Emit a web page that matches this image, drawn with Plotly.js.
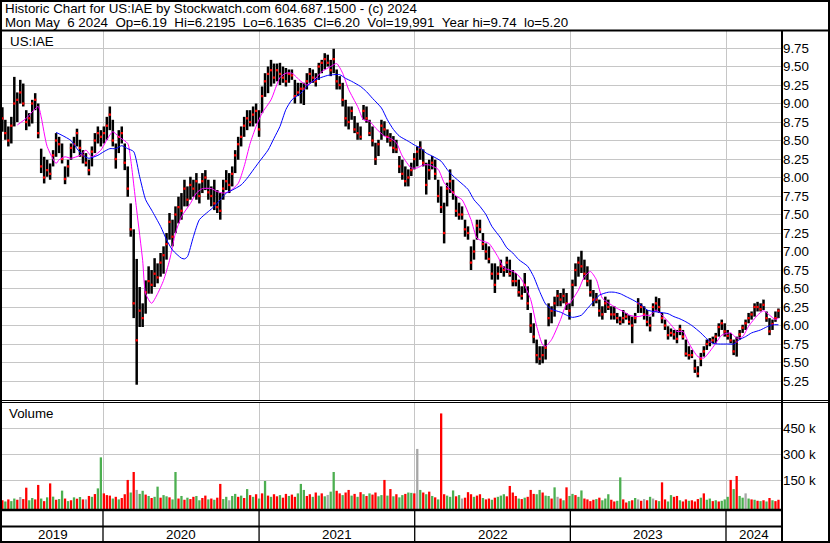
<!DOCTYPE html>
<html><head><meta charset="utf-8">
<script src="https://cdn.plot.ly/plotly-3.0.1.min.js"></script>
<style>html,body{margin:0;padding:0;background:#fff;overflow:hidden}#chart{width:830px;height:543px}</style>
</head><body><div id="chart"></div>
<script>
// ---- data (weekly bars) ----
const firstWeek = '2019-05-10';
const highs = [8.95,8.78,8.69,8.82,9.36,9.15,9.32,9.27,8.91,8.87,
9.05,9.14,9.00,8.39,8.28,8.24,8.19,8.37,8.60,8.55,
8.46,8.15,8.24,8.46,8.55,8.66,8.51,8.37,8.33,8.24,
8.42,8.60,8.69,8.64,8.69,8.82,8.96,8.78,8.46,8.64,
8.69,8.46,8.15,7.65,7.30,6.90,6.52,6.30,6.61,6.80,
6.75,6.91,6.84,6.98,7.07,7.25,7.52,7.43,7.61,7.74,
7.79,7.97,7.88,8.01,7.97,8.06,7.92,8.06,8.10,7.97,
7.88,7.97,7.83,7.79,7.97,8.10,8.06,8.15,8.37,8.55,
8.69,8.82,8.91,8.91,8.96,9.00,8.91,9.23,9.41,9.50,
9.59,9.54,9.54,9.55,9.50,9.48,9.46,9.46,9.32,9.28,
9.28,9.28,9.41,9.48,9.46,9.41,9.55,9.59,9.68,9.66,
9.59,9.74,9.46,9.37,9.28,9.05,8.96,8.96,8.83,8.74,
8.69,8.98,8.96,8.78,8.69,8.47,8.51,8.78,8.76,8.65,
8.60,8.56,8.51,8.29,8.24,8.15,8.11,8.20,8.33,8.42,
8.49,8.38,8.20,8.24,8.29,8.24,7.97,7.88,7.66,7.93,
8.11,7.97,7.75,7.66,7.61,7.43,7.34,7.07,7.16,7.43,
7.43,7.25,7.11,7.07,6.84,6.84,6.80,6.89,6.80,6.93,
6.89,6.75,6.71,6.62,6.53,6.71,6.53,6.17,6.03,5.81,
5.72,5.72,5.81,6.30,6.26,6.39,6.48,6.44,6.50,6.44,
6.30,6.62,6.84,6.93,7.01,6.89,6.80,6.62,6.48,6.44,
6.35,6.26,6.39,6.35,6.26,6.26,6.17,6.12,6.21,6.17,
6.14,6.12,6.17,6.37,6.30,6.26,6.21,6.12,6.30,6.39,
6.37,6.17,6.08,5.99,5.96,5.94,5.94,6.01,5.94,5.81,
5.72,5.67,5.54,5.45,5.63,5.72,5.81,5.83,5.85,5.90,
6.03,6.08,6.03,5.94,5.90,5.81,5.85,5.94,6.01,6.08,
6.17,6.19,6.30,6.32,6.30,6.35,6.19,6.10,6.08,6.19,
6.23];
const lows = [8.62,8.51,8.42,8.46,8.69,8.75,9.00,8.96,8.64,8.69,
8.73,8.91,8.53,8.06,7.92,8.01,7.97,8.15,8.28,8.33,
8.19,7.91,8.01,8.24,8.33,8.42,8.28,8.19,8.15,8.03,
8.15,8.33,8.46,8.42,8.46,8.51,8.64,8.42,8.12,8.33,
8.46,8.10,7.74,7.20,6.10,5.20,5.98,5.98,6.16,6.43,
6.43,6.52,6.57,6.66,6.70,6.89,7.16,7.07,7.25,7.38,
7.43,7.61,7.61,7.70,7.74,7.70,7.65,7.79,7.83,7.70,
7.61,7.56,7.52,7.43,7.70,7.83,7.79,7.88,8.06,8.24,
8.42,8.55,8.64,8.69,8.69,8.73,8.55,8.87,9.09,9.14,
9.23,9.27,9.30,9.25,9.28,9.23,9.28,9.32,9.00,9.10,
9.00,8.98,9.19,9.28,9.28,9.23,9.32,9.41,9.46,9.50,
9.37,9.41,9.19,9.19,8.96,8.69,8.65,8.78,8.60,8.51,
8.51,8.78,8.74,8.56,8.42,8.17,8.29,8.51,8.56,8.47,
8.42,8.33,8.33,8.06,7.97,7.88,7.88,8.02,8.11,8.15,
8.24,8.15,7.77,7.97,8.11,7.97,7.66,7.52,7.11,7.61,
7.79,7.70,7.47,7.43,7.43,7.20,7.16,6.75,6.89,7.16,
7.25,7.02,6.89,6.84,6.62,6.44,6.62,6.71,6.66,6.71,
6.66,6.53,6.53,6.39,6.35,6.44,6.21,5.90,5.76,5.49,
5.47,5.49,5.54,5.99,6.03,6.12,6.26,6.26,6.30,6.21,
6.08,6.26,6.53,6.66,6.71,6.62,6.53,6.39,6.26,6.30,
6.12,6.08,6.17,6.21,6.08,6.08,6.03,6.01,6.03,6.08,
6.01,5.76,6.03,6.17,6.17,6.08,5.99,5.92,6.12,6.19,
6.17,6.03,5.94,5.81,5.85,5.81,5.76,5.87,5.81,5.58,
5.54,5.56,5.36,5.30,5.45,5.58,5.67,5.72,5.76,5.76,
5.85,5.94,5.85,5.81,5.76,5.60,5.58,5.81,5.90,5.94,
6.03,6.08,6.12,6.19,6.19,6.21,6.05,5.87,5.94,6.05,
6.10];
const closes = [8.80,8.60,8.50,8.70,9.00,9.05,9.15,9.00,8.75,8.80,
9.00,9.05,8.60,8.15,8.00,8.10,8.05,8.30,8.50,8.45,
8.25,7.98,8.15,8.40,8.45,8.60,8.40,8.30,8.20,8.10,
8.35,8.50,8.60,8.55,8.60,8.70,8.85,8.50,8.25,8.55,
8.60,8.20,7.85,7.30,6.30,5.80,6.20,6.10,6.45,6.60,
6.55,6.70,6.65,6.85,6.95,7.10,7.40,7.20,7.50,7.60,
7.55,7.85,7.70,7.90,7.85,7.95,7.75,7.95,8.00,7.80,
7.75,7.65,7.60,7.55,7.85,7.95,7.90,8.05,8.30,8.45,
8.55,8.70,8.80,8.75,8.85,8.90,8.65,9.10,9.30,9.40,
9.45,9.35,9.45,9.40,9.35,9.30,9.40,9.38,9.10,9.15,
9.20,9.20,9.30,9.40,9.35,9.30,9.50,9.55,9.60,9.55,
9.45,9.60,9.30,9.25,9.05,8.80,8.75,8.90,8.65,8.60,
8.55,8.90,8.80,8.60,8.50,8.25,8.45,8.70,8.65,8.55,
8.50,8.40,8.38,8.15,8.05,7.95,8.00,8.10,8.25,8.35,
8.40,8.20,7.90,8.10,8.20,8.05,7.75,7.60,7.25,7.85,
7.95,7.80,7.55,7.50,7.50,7.30,7.25,6.85,7.00,7.35,
7.30,7.10,7.00,6.90,6.70,6.55,6.70,6.80,6.75,6.85,
6.70,6.60,6.60,6.45,6.40,6.55,6.30,6.00,5.85,5.60,
5.55,5.60,5.70,6.10,6.20,6.30,6.40,6.35,6.40,6.30,
6.20,6.55,6.75,6.85,6.80,6.70,6.60,6.45,6.35,6.35,
6.20,6.15,6.30,6.25,6.15,6.15,6.10,6.05,6.10,6.12,
6.05,6.00,6.10,6.30,6.25,6.15,6.05,6.00,6.25,6.30,
6.25,6.10,6.00,5.87,5.90,5.88,5.82,5.95,5.85,5.62,
5.60,5.60,5.42,5.35,5.55,5.65,5.75,5.78,5.80,5.85,
5.98,6.03,5.92,5.86,5.80,5.65,5.78,5.88,5.97,6.03,
6.10,6.15,6.25,6.25,6.22,6.28,6.10,5.92,6.02,6.10,
6.20];
// volume in thousands of shares, and bar colour (r = down, g = up, x = unchanged)
const volumesK = [35,28,40,30,45,38,54,42,108,35,
48,40,124,45,30,52,133,56,38,42,
91,45,30,35,52,44,54,40,40,60,
55,71,104,284,75,65,62,45,55,40,
48,70,153,80,199,95,72,90,68,60,
48,55,114,50,65,58,52,40,199,45,
60,38,50,42,55,60,35,48,62,40,
45,38,50,130,42,55,35,60,72,55,
62,48,100,65,55,70,45,75,147,62,
55,70,58,65,50,72,60,68,55,75,
130,95,60,70,55,80,62,75,58,66,
85,199,90,75,65,80,95,62,72,55,
82,70,60,75,68,80,58,65,153,62,
100,58,70,52,65,72,80,78,75,333,
95,80,70,85,60,52,40,539,70,62,
55,92,58,65,45,50,82,70,55,62,
70,48,40,45,38,50,55,62,70,58,
118,80,60,45,42,50,55,95,72,70,
95,80,62,60,45,110,55,45,35,110,
60,72,65,55,92,45,40,30,38,42,
50,35,45,70,38,28,32,168,40,22,
30,35,48,40,32,42,35,55,45,35,
30,139,40,28,65,55,60,35,28,40,
32,35,28,42,50,75,38,45,30,35,
28,32,40,55,153,100,176,60,50,75,
45,40,38,32,30,35,28,48,35,30,
38];
const volDirection = ('rgrggrxrrg'+'grrgrgrgrg'+'grgrgrgrxr'+'grggrrrgrg'+'rrrgrxggrg'+
'rggrggrggr'+'grgrrggrrg'+'rgrrggxggr'+'grgrgrgrgr'+'grrgrrgrrg'+
'ggrrgrgrgx'+'ggrrgrrgrg'+'rgrgrrggrg'+'rgrggrggrx'+'grgrgrgrrg'+
'ggrgxrrrgr'+'rgrrgrgggr'+'rrrgrgrrrg'+'grggrgxrgr'+'ggrggrrrrg'+
'rgggrrggrr'+'grgxrxrgxr'+'grrggrrgrr'+'grrrgrggrg'+'rgggrgrggx'+
'grgrgrgrgr'+'r').split('');
// moving averages (week index, value)
const magentaWeek = [5,8,12,13,15,18,19,21,23,26,28,30,33,35,37,39,42,43,45,47,48,50,52,54,56,58,60,63,65,67,70,72,74,76,79,81,83,85,87,90,93,95,97,100,102,104,107,110,112,114,116,119,121,123,125,128,130,132,134,137,139,141,143,146,148,150,152,154,157,159,161,163,166,168,170,172,174,177,179,181,182,184,187,189,190,193,195,197,199,201,204,206,208,210,213,215,217,219,221,224,226,228,230,233,235,237,239,241,244,246,248,250,253,255,257,259,260];
const magentaVal = [8.71,8.80,8.96,8.82,8.42,8.19,8.24,8.28,8.26,8.30,8.37,8.28,8.37,8.51,8.62,8.55,8.46,8.24,7.56,6.88,6.43,6.30,6.43,6.61,6.88,7.25,7.47,7.65,7.79,7.85,7.85,7.81,7.79,7.81,7.92,8.15,8.46,8.69,8.87,9.05,9.35,9.41,9.41,9.30,9.25,9.30,9.43,9.50,9.54,9.41,9.19,8.96,8.78,8.76,8.67,8.56,8.53,8.47,8.29,8.13,8.13,8.17,8.17,8.11,7.93,7.84,7.75,7.70,7.43,7.18,7.14,7.11,6.93,6.78,6.75,6.71,6.62,6.35,5.99,5.74,5.72,5.81,6.08,6.29,6.30,6.48,6.66,6.73,6.62,6.37,6.28,6.23,6.19,6.14,6.12,6.14,6.14,6.21,6.14,6.01,5.92,5.92,5.76,5.58,5.56,5.65,5.76,5.87,5.90,5.83,5.85,5.99,6.14,6.20,6.14,6.08,6.10];
const blueWeek = [18,20,23,25,27,29,32,34,36,38,40,42,44,46,48,50,53,55,57,60,61,62,64,66,69,71,73,75,77,80,82,84,86,89,91,93,95,97,100,102,104,106,109,111,113,115,117,120,122,124,127,129,131,133,136,138,140,142,144,147,149,151,153,156,158,160,162,164,167,169,171,173,176,178,180,182,184,187,189,191,194,196,198,200,203,205,207,209,211,214,216,218,220,223,225,227,229,231,234,236,238,240,243,245,247,249,251,254,256,258,260];
const blueVal = [8.61,8.57,8.50,8.39,8.30,8.26,8.30,8.35,8.39,8.39,8.43,8.39,8.35,8.01,7.70,7.56,7.34,7.16,7.02,6.91,6.90,6.93,7.20,7.43,7.54,7.61,7.70,7.79,7.83,7.90,7.99,8.10,8.21,8.37,8.53,8.69,8.92,9.05,9.14,9.23,9.30,9.34,9.38,9.39,9.39,9.34,9.30,9.23,9.16,9.07,8.94,8.78,8.65,8.56,8.49,8.44,8.40,8.33,8.29,8.22,8.11,8.02,7.95,7.84,7.70,7.61,7.50,7.34,7.18,7.05,6.98,6.89,6.80,6.66,6.46,6.29,6.22,6.18,6.14,6.11,6.14,6.23,6.32,6.41,6.45,6.45,6.43,6.39,6.35,6.28,6.21,6.19,6.18,6.16,6.12,6.09,6.05,6.00,5.90,5.82,5.76,5.75,5.75,5.75,5.81,5.85,5.90,5.94,5.98,6.01,6.01];
const priceTicks = [5.25,5.50,5.75,6.00,6.25,6.50,6.75,7.00,7.25,7.50,7.75,8.00,8.25,8.50,8.75,9.00,9.25,9.50,9.75];
const volTicks = [150000,300000,450000];
const volTickText = ['150 k','300 k','450 k'];
const yearStarts = ['2020-01-01','2021-01-01','2022-01-01','2023-01-01','2024-01-01'];
const yearLabels = ['2019','2020','2021','2022','2023','2024'];
const headerLine1 = 'Historic Chart for US:IAE by Stockwatch.com 604.687.1500 - (c) 2024';
const headerLine2 = 'Mon May \u00a06 2024 \u00a0Op=6.19 \u00a0Hi=6.2195 \u00a0Lo=6.1635 \u00a0Cl=6.20 \u00a0Vol=19,991 \u00a0Year hi=9.74 \u00a0lo=5.20';

// ---- build ----
const W = 830, H = 543;
const FONT = 'Liberation Sans, Arial, sans-serif';
const DAY = 864e5;
const t0 = Date.parse(firstWeek + 'T00:00:00Z');
const weekDate = i => new Date(t0 + i*7*DAY).toISOString().slice(0,10);
const dates = highs.map((_, i) => weekDate(i));
const xStart = '2019-05-09 03:20', xEnd = '2024-05-11 08:00';
const volFloor = -21500;

const hlX = [], hlY = [];
dates.forEach((d, i) => { hlX.push(d, d, null); hlY.push(lows[i], highs[i], null); });

const volColorMap = {r: '#ff0000', g: '#4caf50', x: '#a6a6a6'};
const volTraces = Object.keys(volColorMap).map(k => {
  const xs = [], ys = [];
  dates.forEach((d, i) => { if (volDirection[i] === k) { xs.push(d, d, null); ys.push(volFloor, volumesK[i]*1000, null); } });
  return {type: 'scatter', mode: 'lines', x: xs, y: ys, xaxis: 'x', yaxis: 'y2',
          line: {color: volColorMap[k], width: 2.3}, hoverinfo: 'skip', connectgaps: false};
});

const traces = [
  {type: 'scatter', mode: 'lines', x: hlX, y: hlY, line: {color: '#000', width: 2.5}, hoverinfo: 'skip', connectgaps: false},
  {type: 'scatter', mode: 'markers', x: dates, y: closes, marker: {color: '#ff0000', size: 2.3, symbol: 'square', line: {width: 0}}, hoverinfo: 'skip'},
  {type: 'scatter', mode: 'lines', x: magentaWeek.map(weekDate), y: magentaVal, line: {color: '#ff00ff', width: 1, shape: 'spline', smoothing: 0.6}, hoverinfo: 'skip'},
  {type: 'scatter', mode: 'lines', x: blueWeek.map(weekDate), y: blueVal, line: {color: '#0000ff', width: 1, shape: 'spline', smoothing: 0.6}, hoverinfo: 'skip'},
  ...volTraces
];

const px = X => X / W, py = Y => 1 - Y / H;
const hline = (Y, x0, x1, w) => ({type: 'line', xref: 'paper', yref: 'paper', x0: px(x0), x1: px(x1), y0: py(Y), y1: py(Y), line: {color: '#000', width: w}});
const vline = (X, y0, y1, w) => ({type: 'line', xref: 'paper', yref: 'paper', x0: px(X), x1: px(X), y0: py(y0), y1: py(y1), line: {color: '#000', width: w}});

const shapes = [
  hline(1, 0, 830, 2), hline(30.5, 0, 830, 2),
  hline(400.5, 0, 830, 1), hline(402.5, 0, 830, 1),
  hline(510, 0, 782, 2.5), hline(526.5, 0, 782, 2), hline(542, 0, 830, 2),
  vline(1, 0, 543, 2), vline(782, 30, 543, 2), vline(829, 0, 543, 2),
  ...yearStarts.map(d => ({type: 'line', xref: 'x', yref: 'paper', x0: d, x1: d, y0: py(510), y1: py(542), line: {color: '#000', width: 1.3}}))
];

const bounds = [xStart, ...yearStarts, xEnd].map(s => Date.parse(s.replace(' ', 'T') + (s.length > 10 ? ':00Z' : 'T00:00:00Z')));
const annotations = [
  {text: headerLine1, xref: 'paper', yref: 'paper', x: px(3), y: py(8.8), xanchor: 'left', yanchor: 'middle', showarrow: false, font: {family: FONT, size: 13.33, color: '#000'}},
  {text: headerLine2, xref: 'paper', yref: 'paper', x: px(3), y: py(22.6), xanchor: 'left', yanchor: 'middle', showarrow: false, font: {family: FONT, size: 13.33, color: '#000'}},
  {text: 'US:IAE', xref: 'paper', yref: 'paper', x: px(8), y: py(41.3), xanchor: 'left', yanchor: 'middle', showarrow: false, font: {family: FONT, size: 13.33, color: '#000'}},
  {text: 'Volume', xref: 'paper', yref: 'paper', x: px(7), y: py(413.3), xanchor: 'left', yanchor: 'middle', showarrow: false, font: {family: FONT, size: 13.33, color: '#000'}},
  ...yearLabels.map((lab, k) => ({text: lab, xref: 'x', yref: 'paper', x: new Date((bounds[k] + bounds[k+1]) / 2).toISOString(), y: py(534.5), xanchor: 'center', yanchor: 'middle', showarrow: false, font: {family: FONT, size: 13.33, color: '#000'}}))
];

const layout = {
  width: W, height: H, margin: {l: 0, r: 0, t: 0, b: 0, pad: 0},
  paper_bgcolor: '#fff', plot_bgcolor: '#fff', showlegend: false, hovermode: false,
  xaxis: {type: 'date', domain: [px(2), px(782)], range: [xStart, xEnd], anchor: 'y2',
          tickmode: 'array', tickvals: yearStarts, showticklabels: false, ticks: '',
          showgrid: true, gridcolor: '#c6c6c6', gridwidth: 1, zeroline: false, showline: false, fixedrange: true},
  yaxis: {domain: [py(401), py(31)], range: [4.98, 9.98], side: 'right', anchor: 'x',
          tickmode: 'array', tickvals: priceTicks, ticktext: priceTicks.map(v => v.toFixed(2)), ticks: '',
          showgrid: true, gridcolor: '#c6c6c6', gridwidth: 1, zeroline: false, showline: false,
          tickfont: {family: FONT, size: 13.33, color: '#000'}, fixedrange: true},
  yaxis2: {domain: [py(510), py(402)], range: [volFloor, 605300], side: 'right', anchor: 'x',
          tickmode: 'array', tickvals: volTicks, ticktext: volTickText, ticks: '',
          showgrid: true, gridcolor: '#c6c6c6', gridwidth: 1, zeroline: false, showline: false,
          tickfont: {family: FONT, size: 13.33, color: '#000'}, fixedrange: true},
  shapes, annotations
};

Plotly.newPlot('chart', traces, layout, {staticPlot: true, displayModeBar: false});
</script></body></html>
